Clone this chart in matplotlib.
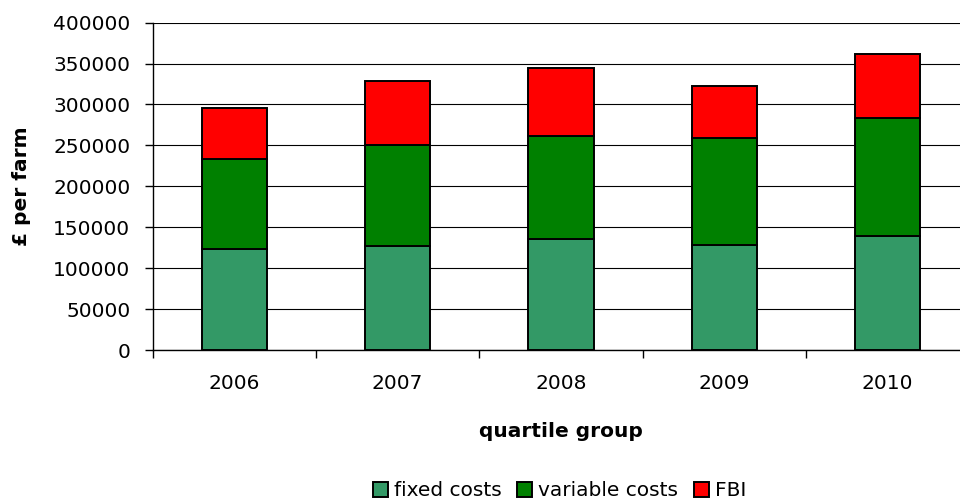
import matplotlib.pyplot as plt
import numpy as np

years = ['2006', '2007', '2008', '2009', '2010']
fixed_costs = [123000, 127000, 136000, 128000, 139000]
variable_costs = [111000, 123000, 125000, 131000, 145000]
fbi = [62000, 79000, 83000, 64000, 78000]

plt.rcParams['font.family'] = 'DejaVu Sans'

fig = plt.figure(figsize=(9.6, 5.03), dpi=100)
ax = fig.add_axes([0.159, 0.304, 0.8505, 0.651])

x = np.arange(len(years))
bottom2 = np.array(fixed_costs)
bottom3 = bottom2 + np.array(variable_costs)

ax.bar(x, fixed_costs, width=0.4, color='#339966', edgecolor='black', linewidth=1.4, label='fixed costs', zorder=3)
ax.bar(x, variable_costs, width=0.4, bottom=bottom2, color='#008000', edgecolor='black', linewidth=1.4, label='variable costs', zorder=3)
ax.bar(x, fbi, width=0.4, bottom=bottom3, color='#FF0000', edgecolor='black', linewidth=1.4, label='FBI', zorder=3)

ax.set_xlim(-0.5, len(years) - 0.5)
ax.set_ylim(0, 400000)
ax.set_yticks(np.arange(0, 400001, 50000))
ax.yaxis.grid(True, color='black', linewidth=0.8, zorder=0)
ax.set_axisbelow(True)

ax.set_xticks(x)
ax.set_xticklabels(years)
ax.set_xticks(np.arange(-0.5, len(years), 1.0), minor=True)
ax.tick_params(axis='x', which='major', length=0, pad=17, labelsize=14.5)
ax.tick_params(axis='x', which='minor', length=6, width=1, direction='out')
ax.tick_params(axis='y', length=6, width=1, direction='out', pad=10, labelsize=14.5)

for side in ['top', 'right']:
    ax.spines[side].set_visible(False)
ax.spines['left'].set_linewidth(1)
ax.spines['bottom'].set_linewidth(1)

ax.set_xlabel('quartile group', fontsize=14.5, fontweight='bold')
ax.xaxis.set_label_coords(0.5, -0.25)
ax.xaxis.label.set_va('center')
ax.set_ylabel('£ per farm', fontsize=14.5, fontweight='bold')
ax.yaxis.set_label_coords(-0.161, 0.5)
ax.yaxis.label.set_va('center')

fig.legend(loc='center', bbox_to_anchor=(0.583, 0.024), ncol=3, frameon=False,
           fontsize=14.5, handlelength=0.75, handleheight=0.75,
           handletextpad=0.3, columnspacing=0.75, borderaxespad=0)

fig.savefig('out.png', dpi=100)
